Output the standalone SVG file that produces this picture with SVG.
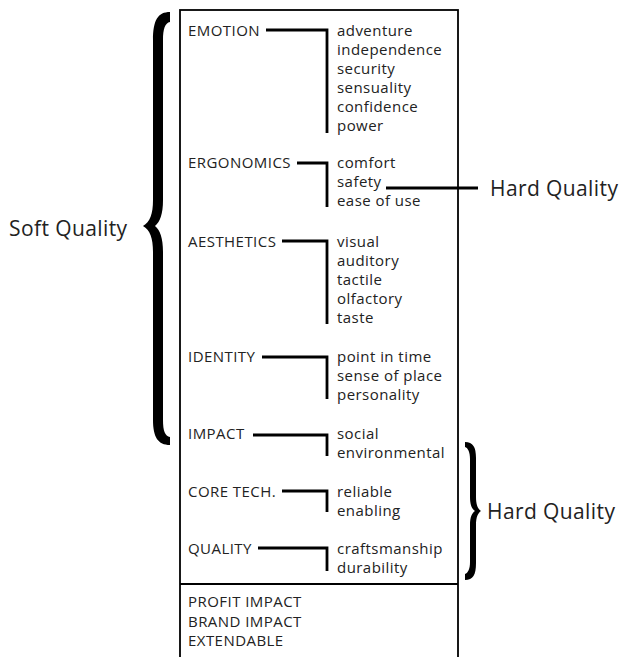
<svg xmlns="http://www.w3.org/2000/svg" width="625" height="657" viewBox="0 0 625 657">
<style>
text{font-family:"Open Sans","DejaVu Sans",sans-serif;fill:#222}
.t{font-size:15px;letter-spacing:0.45px}
.big{font-size:21px;letter-spacing:0.4px}
.c{fill:none;stroke:#000;stroke-width:2.8}
.box{fill:none;stroke:#000;stroke-width:1.8}
.br{fill:#000;stroke:none}
</style>
<rect width="625" height="657" fill="#fff"/>
<g id="frame">
<rect class="box" x="180" y="10" width="278" height="650"/>
<line class="box" x1="180" y1="584" x2="458" y2="584"/>
</g>
<g id="connectors">
<polyline class="c" points="266,30 327,30 327,133"/>
<polyline class="c" points="297,163 327,163 327,207"/>
<polyline class="c" points="282,241 327,241 327,324"/>
<polyline class="c" points="262,357 327,357 327,399"/>
<polyline class="c" points="253,435 327,435 327,456"/>
<polyline class="c" points="282,491 327,491 327,512"/>
<polyline class="c" points="258,548 327,548 327,571"/>
<line class="c" x1="386" y1="188" x2="478" y2="188"/>
</g>
<g id="emotion"><text class="t" x="188" y="36">EMOTION</text>
<text class="t" x="337" y="36">adventure</text><text class="t" x="337" y="55">independence</text><text class="t" x="337" y="74">security</text><text class="t" x="337" y="93">sensuality</text><text class="t" x="337" y="112">confidence</text><text class="t" x="337" y="131">power</text></g>
<g id="ergonomics"><text class="t" x="188" y="168">ERGONOMICS</text>
<text class="t" x="337" y="168">comfort</text><text class="t" x="337" y="187">safety</text><text class="t" x="337" y="206">ease of use</text></g>
<g id="aesthetics"><text class="t" x="188" y="247">AESTHETICS</text>
<text class="t" x="337" y="247">visual</text><text class="t" x="337" y="266">auditory</text><text class="t" x="337" y="285">tactile</text><text class="t" x="337" y="304">olfactory</text><text class="t" x="337" y="323">taste</text></g>
<g id="identity"><text class="t" x="188" y="362">IDENTITY</text>
<text class="t" x="337" y="362">point in time</text><text class="t" x="337" y="381">sense of place</text><text class="t" x="337" y="400">personality</text></g>
<g id="impact"><text class="t" x="188" y="439">IMPACT</text>
<text class="t" x="337" y="439">social</text><text class="t" x="337" y="458">environmental</text></g>
<g id="coretech"><text class="t" x="188" y="497">CORE TECH.</text>
<text class="t" x="337" y="497">reliable</text><text class="t" x="337" y="516">enabling</text></g>
<g id="quality"><text class="t" x="188" y="554">QUALITY</text>
<text class="t" x="337" y="554">craftsmanship</text><text class="t" x="337" y="573">durability</text></g>
<g id="bottom"><text class="t" x="188" y="607">PROFIT IMPACT</text><text class="t" x="188" y="627">BRAND IMPACT</text><text class="t" x="188" y="646">EXTENDABLE</text></g>
<g id="soft">
<path class="br" d="M170,12 C158,12 153,20 153,40 L153,200 C153,214 150,222 143,226 C150,230 153,238 153,252 L153,420 C153,437 158,445 170,445 L170,437 C165,436 163,431 163,420 L163,252 C163,238 160,230 155,226 C160,222 163,214 163,200 L163,40 C163,29 165,23 170,22 Z"/>
<text class="big" x="9" y="236">Soft Quality</text>
</g>
<g id="hard1"><text class="big" x="490" y="196">Hard Quality</text></g>
<g id="hard2">
<path class="br" d="M465,442 C473,442 476,447 476,458 L476,497 C476,505 478,509 481,511 C478,513 476,517 476,525 L476,563 C476,575 473,580 465,580 L465,574 C468,573 470,569 470,562 L470,525 C470,517 472,513 475,511 C472,509 470,505 470,497 L470,459 C470,452 468,448 465,447 Z"/>
<text class="big" x="487" y="519">Hard Quality</text>
</g>
</svg>
